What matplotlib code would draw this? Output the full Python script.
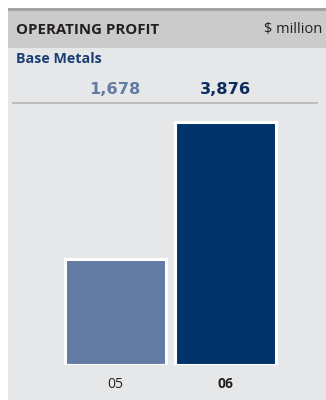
import matplotlib.pyplot as plt
from matplotlib.patches import Rectangle

# Operating profit, Base Metals ($ million)
years = ['05', '06']
profit = [1678, 3876]
bar_colors = ['#647ca3', '#00336a']
value_colors = ['#647ca3', '#0d2d5e']

W, H = 326, 400
fig = plt.figure(figsize=(W / 100, H / 100), dpi=100)
fig.patch.set_facecolor('white')

def px(x0, y0, x1, y1):
    # pixel box (top-left origin) -> figure fraction rect
    return [x0 / W, 1 - y1 / H, (x1 - x0) / W, (y1 - y0) / H]

# panel backgrounds
for (x0, y0, x1, y1), c in [((8, 48, W, H), '#e6e7e8'),
                            ((8, 11, W, 48), '#cbcbcb'),
                            ((8, 8, W, 11), '#a3a3a3'),
                            ((12, 102, 318, 104), '#bdbdbd')]:
    b = px(x0, y0, x1, y1)
    fig.patches.append(Rectangle((b[0], b[1]), b[2], b[3], transform=fig.transFigure,
                                 facecolor=c, edgecolor='none', zorder=-5))

fig.text(16 / W, 1 - 30 / H, 'OPERATING PROFIT', fontsize=10.8, fontweight='bold',
         family='Open Sans', color='#231f20', va='center', ha='left')
fig.text(322 / W, 1 - 30 / H, '$ million', fontsize=10.5, family='Open Sans',
         color='#231f20', va='center', ha='right')
fig.text(16 / W, 1 - 59 / H, 'Base Metals', fontsize=10.3, fontweight='bold',
         family='Open Sans', color='#1a3f74', va='center', ha='left')

# bar area: baseline at y=364.5px, 243px per 3876
base_y, top_y = 364.5, 110
scale = 243 / profit[1]
ax = fig.add_axes(px(60, top_y, 281, base_y))
ax.set_zorder(2)
ax.set_xlim(-0.5, 1.5)
ax.set_ylim(0, (base_y - top_y) / scale)
ax.axis('off')
ax.bar([0, 1], profit, width=0.915, color=bar_colors, edgecolor='white', linewidth=2.2)

for i, (yr, v) in enumerate(zip(years, profit)):
    xc = (60 + (i + 0.5) * (221 / 2)) / W
    fig.text(xc, 1 - 90 / H, f'{v:,}', fontsize=11.7, fontweight='bold',
             family='DejaVu Sans', color=value_colors[i], ha='center', va='center')
    fig.text(xc, 1 - 384 / H, yr, fontsize=10, family='Open Sans',
             fontweight='bold' if i == 1 else 'normal', color='#231f20',
             ha='center', va='center')

fig.savefig('out.png', dpi=100)
